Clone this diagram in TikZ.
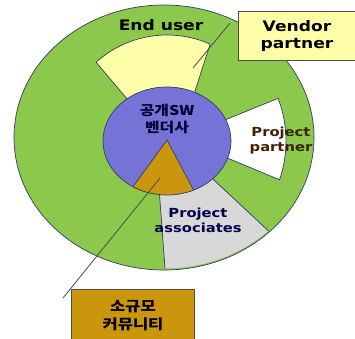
\documentclass[tikz,border=0pt]{standalone}
\usepackage{fontspec}
\setmainfont{DejaVu Sans}
\newfontfamily\kr{Noto Sans CJK KR}
\usetikzlibrary{positioning}
\definecolor{usergreen}{RGB}{140,200,75}
\definecolor{vendorblue}{RGB}{118,115,215}
\definecolor{commbrown}{RGB}{201,150,12}
\definecolor{partyellow}{RGB}{255,255,170}
\definecolor{assocgray}{RGB}{216,216,216}
\definecolor{edgeblue}{RGB}{50,60,100}
\tikzset{
  ring/.style={draw=edgeblue,line width=0.7pt},
  lbl/.style={font=\bfseries\fontsize{14.5}{17}\selectfont,align=center,xscale=1.18,inner sep=0pt},
  small/.style={font=\bfseries\fontsize{12.5}{15}\selectfont,align=center,xscale=1.18,inner sep=0pt},
  krlbl/.style={font=\kr\bfseries\fontsize{14}{18}\selectfont,align=center,xscale=1.18,inner sep=0pt},
  box/.style={draw=black!70,line width=1pt}
}
\begin{document}
\begin{tikzpicture}[x=1pt,y=1pt]
    \clip (0,0) rectangle (355,338);
    \fill[white] (0,0) rectangle (355,338);
    \coordinate (c) at (167,197);
    % outer ring
    \filldraw[ring,fill=usergreen] (164,200.5) ellipse (150 and 132.5);
    % sectors
    \filldraw[ring,fill=partyellow] ([shift={(c)}]134:50) -- ([shift={(c)}]132:106)
        arc[start angle=132,end angle=66,radius=106] -- ([shift={(c)}]59:50) -- cycle;
    \filldraw[ring,fill=white] ([shift={(c)}]19.5:50) -- ([shift={(c)}]21:119)
        arc[start angle=21,end angle=-19,radius=119] -- ([shift={(c)}]-14:50) -- cycle;
    \begin{scope}
        \clip (164,200.5) ellipse (148.5 and 131);
        \filldraw[ring,fill=assocgray] ([shift={(c)}]-99:50) -- ([shift={(c)}]-89.6:170)
            -- ([shift={(c)}]-45:190) -- ([shift={(c)}]-41.7:150) -- ([shift={(c)}]-39:50) -- cycle;
    \end{scope}
    % core
    \fill[vendorblue] (167,197) ellipse (64 and 54);
    \begin{scope}
        \clip (167,197) ellipse (64 and 54);
        \filldraw[ring,fill=commbrown] (167,198) -- ([shift={(167,198)}]-126:90)
            -- ([shift={(167,198)}]-62:90) -- cycle;
    \end{scope}
    \draw[ring] (167,197) ellipse (64 and 54);
    % labels
    \node[lbl] (enduser) at (161,313) {End user};
    \node[krlbl,font=\kr\bfseries\fontsize{13.5}{17}\selectfont,text=black!80!blue] (sw) at (167,219.5) {공개SW\\벤더사};
    \node[small,text=black!75!orange] (partner) at (281,197) {Project\\partner};
    \node[small,text=black!70!blue] (assoc) at (198,118) {Project\\associates};
    \node[box,lbl,fill=partyellow,minimum width=98.5pt,minimum height=49pt] (vendor) at (297,301.5) {Vendor\\partner};
    \node[box,krlbl,fill=commbrown,minimum width=103.4pt,minimum height=54pt] (community) at (133,22) {소규모\\커뮤니티};
    % pointers
    \coordinate (vendortip) at (230,315);
    \coordinate (vendorend) at (193,270);
    \coordinate (commtip) at (160,160);
    \coordinate (commend) at (63,40);
    \draw[black!70,line width=0.8pt] (vendortip) -- (vendorend);
    \draw[black!70,line width=0.8pt] (commtip) -- (commend);
\end{tikzpicture}
\end{document}
